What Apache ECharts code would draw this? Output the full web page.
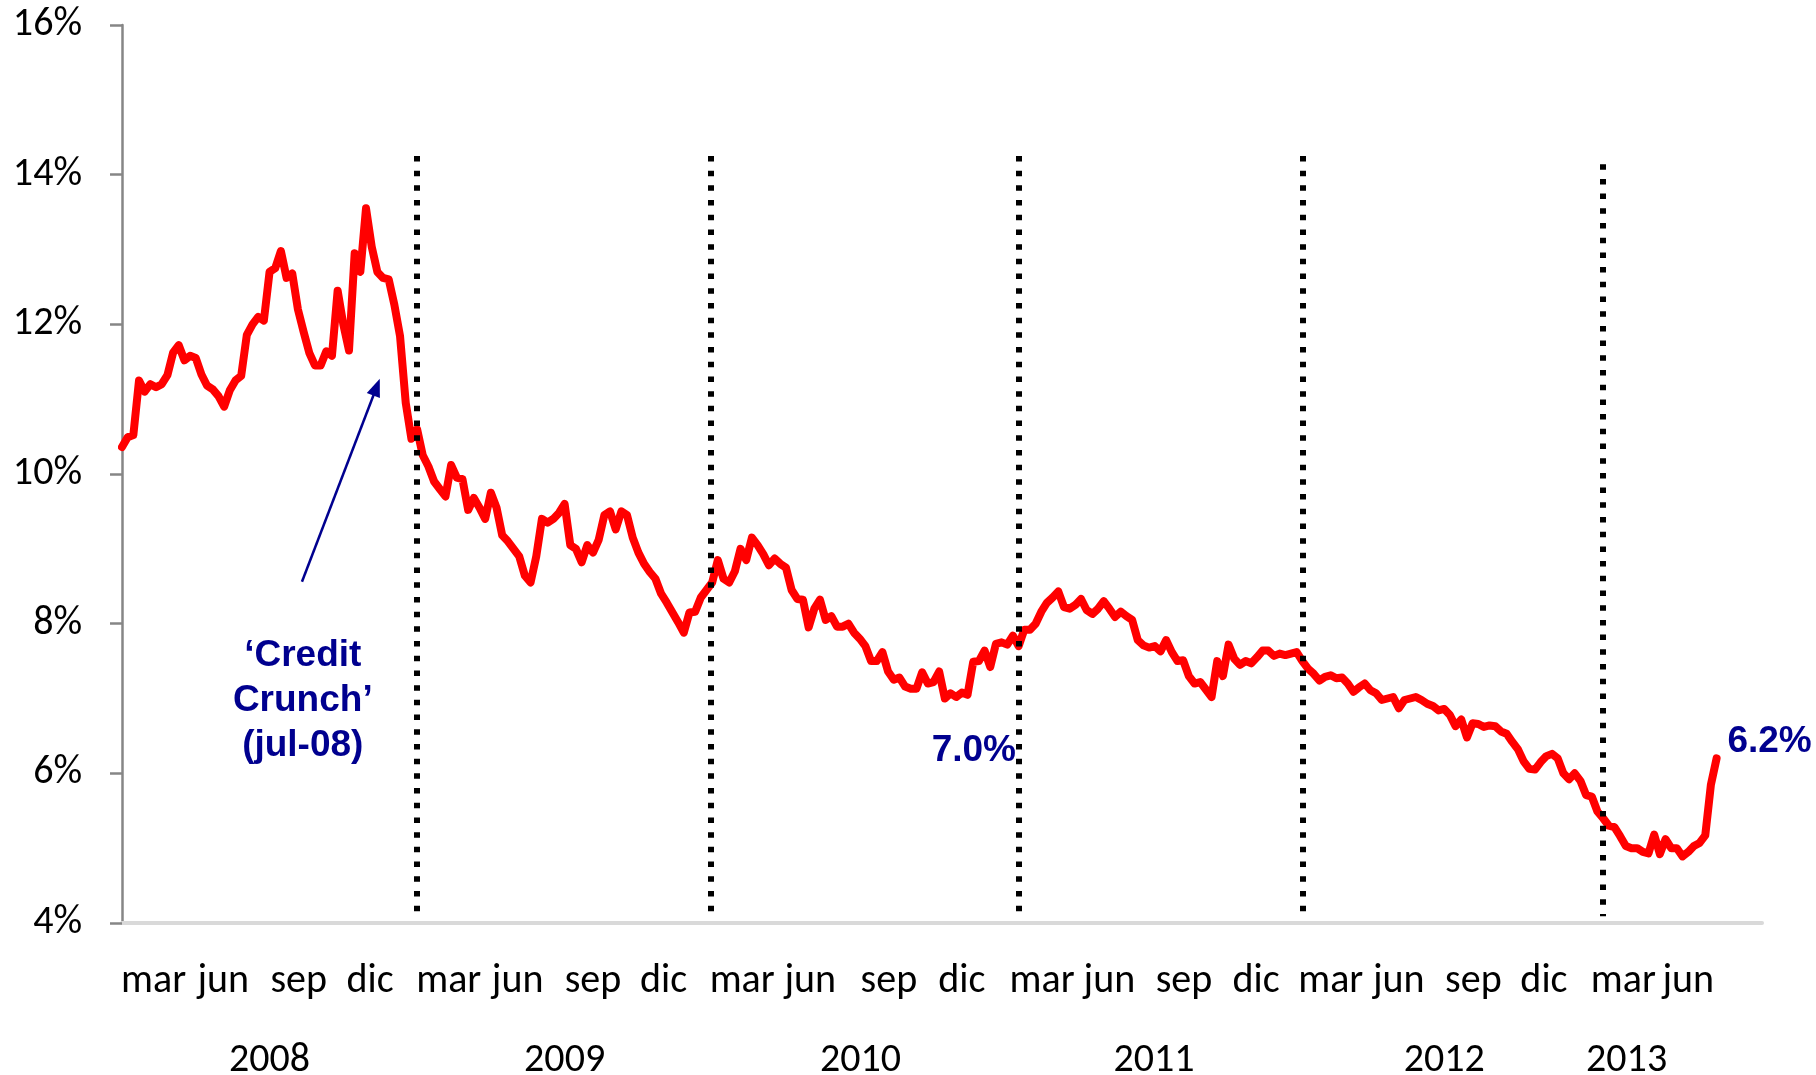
<!DOCTYPE html>
<html>
<head>
<meta charset="utf-8">
<title>Rendimiento 2008-2013</title>
<script src="https://cdn.jsdelivr.net/npm/echarts@6/dist/echarts.min.js"></script>
<style>
  html, body { margin: 0; padding: 0; background: #ffffff; }
  #chart { width: 1816px; height: 1075px; }
</style>
</head>
<body>
<div id="chart"></div>
<script>
// Weekly yield readings (%), one array per calendar year; the first reading is on 2008-01-01
const y2008 = [10.36, 10.49, 10.52, 11.25, 11.10, 11.20, 11.16, 11.20, 11.32, 11.62,
  11.72, 11.52, 11.58, 11.55, 11.33, 11.18, 11.13, 11.04, 10.90, 11.12,
  11.25, 11.31, 11.86, 12.00, 12.10, 12.05, 12.70, 12.75, 12.98, 12.62,
  12.68, 12.20, 11.90, 11.62, 11.45, 11.45, 11.64, 11.58, 12.45, 12.00,
  11.65, 12.95, 12.70, 13.55, 13.04, 12.70, 12.62, 12.60, 12.26, 11.84,
  10.95, 10.47, 10.60];
const y2009 = [10.25, 10.10, 9.90, 9.80, 9.70, 10.12, 9.95, 9.93, 9.52, 9.68,
  9.55, 9.40, 9.75, 9.55, 9.18, 9.10, 9.00, 8.90, 8.64, 8.55,
  8.90, 9.40, 9.35, 9.40, 9.48, 9.60, 9.05, 9.00, 8.82, 9.05,
  8.95, 9.12, 9.45, 9.50, 9.26, 9.50, 9.45, 9.15, 8.95, 8.80,
  8.69, 8.60, 8.40, 8.28, 8.15, 8.02, 7.88, 8.15, 8.16, 8.35,
  8.45, 8.55];
const y2010 = [8.85, 8.60, 8.55, 8.70, 9.00, 8.85, 9.15, 9.05, 8.93, 8.78,
  8.87, 8.80, 8.75, 8.45, 8.33, 8.32, 7.95, 8.20, 8.32, 8.05,
  8.10, 7.96, 7.96, 8.00, 7.88, 7.80, 7.70, 7.50, 7.50, 7.62,
  7.36, 7.25, 7.28, 7.16, 7.13, 7.13, 7.35, 7.20, 7.22, 7.36,
  7.00, 7.07, 7.02, 7.08, 7.05, 7.49, 7.50, 7.64, 7.42, 7.73,
  7.75, 7.72];
const y2011 = [7.84, 7.70, 7.92, 7.92, 8.00, 8.16, 8.28, 8.35, 8.43, 8.22,
  8.20, 8.25, 8.33, 8.18, 8.13, 8.20, 8.30, 8.20, 8.09, 8.16,
  8.10, 8.05, 7.78, 7.71, 7.68, 7.70, 7.63, 7.78, 7.62, 7.50,
  7.51, 7.30, 7.20, 7.22, 7.12, 7.02, 7.50, 7.30, 7.72, 7.53,
  7.45, 7.50, 7.47, 7.55, 7.64, 7.64, 7.57, 7.60, 7.58, 7.60,
  7.62, 7.50];
const y2012 = [7.40, 7.33, 7.24, 7.29, 7.31, 7.27, 7.28, 7.20, 7.09, 7.15,
  7.20, 7.11, 7.07, 6.98, 7.00, 7.02, 6.87, 6.98, 7.00, 7.02,
  6.98, 6.93, 6.90, 6.84, 6.86, 6.78, 6.63, 6.72, 6.48, 6.67,
  6.66, 6.62, 6.64, 6.63, 6.56, 6.53, 6.42, 6.32, 6.16, 6.06,
  6.05, 6.15, 6.23, 6.26, 6.20, 6.00, 5.92, 6.00, 5.90, 5.71,
  5.69, 5.49];
const y2013 = [5.40, 5.30, 5.28, 5.16, 5.03, 5.00, 5.00, 4.95, 4.93, 5.18,
  4.92, 5.12, 5.00, 5.00, 4.89, 4.95, 5.03, 5.07, 5.17, 5.85,
  6.20];

// Y axis scale (percent)
const yMin = 4, yMax = 16, yStep = 2;

// Start of each year on the plotted time scale (dotted separators)
const yearBreaks = ['2008-12-30', '2009-12-27', '2011-01-11', '2011-12-28', '2013-01-01'];
const breakTops = [14.25, 14.25, 14.25, 14.25, 14.14];
const breakBottom = 4.09;

// Quarter labels under the axis
const monthLabels = [
  ['2008-02-09', 'mar'], ['2008-05-05', 'jun'], ['2008-08-06', 'sep'], ['2008-11-02', 'dic'],
  ['2009-02-07', 'mar'], ['2009-05-03', 'jun'], ['2009-08-04', 'sep'], ['2009-10-30', 'dic'],
  ['2010-02-04', 'mar'], ['2010-04-29', 'jun'], ['2010-08-04', 'sep'], ['2010-11-02', 'dic'],
  ['2011-02-09', 'mar'], ['2011-05-03', 'jun'], ['2011-08-03', 'sep'], ['2011-10-31', 'dic'],
  ['2012-01-31', 'mar'], ['2012-04-24', 'jun'], ['2012-07-25', 'sep'], ['2012-10-20', 'dic'],
  ['2013-01-26', 'mar'], ['2013-04-16', 'jun']
];
// Year labels, second row under the axis
const yearLabels = [
  ['2008-07-01', '2008'], ['2009-06-30', '2009'], ['2010-06-30', '2010'],
  ['2011-06-27', '2011'], ['2012-06-19', '2012'], ['2013-01-30', '2013']
];

// Annotation anchors
const crunchNote = { date: '2008-08-11', value: 6.97, text: '\u2018Credit\nCrunch\u2019\n(jul-08)' };
const crunchArrow = { from: ['2008-08-10', 8.56], to: ['2008-11-10', 11.16] };
const axisStart = '2008-01-01', axisEnd = '2013-07-16';

function ts(s) {
  const p = s.split('-').map(Number);
  return new Date(p[0], p[1] - 1, p[2]).getTime();
}

const values = [].concat(y2008, y2009, y2010, y2011, y2012, y2013);
const d0 = ts(axisStart);
const points = values.map(function (v, i) {
  const d = new Date(d0);
  d.setDate(d.getDate() + 7 * i);
  return [d.getTime(), v];
});

// 2010 low and the last reading carry value labels
const off2010 = y2008.length + y2009.length;
const low2010 = Math.min.apply(null, y2010);
const lowPoint = points[off2010 + y2010.indexOf(low2010)];
const lastPoint = points[points.length - 1];

const labelMap = {};
monthLabels.forEach(function (m) { labelMap[ts(m[0])] = m[1]; });
yearLabels.forEach(function (y) { labelMap[ts(y[0])] = '\n' + y[1]; });
const labelTicks = monthLabels.map(function (m) { return ts(m[0]); })
  .concat(yearLabels.map(function (y) { return ts(y[0]); }));

const axisFont = 'Carlito, Calibri, Lato, sans-serif';
const noteFont = '"Liberation Sans", Arial, sans-serif';
const navy = '#00008f';

const chart = echarts.init(document.getElementById('chart'), null, { renderer: 'canvas' });
chart.setOption({
  animation: false,
  backgroundColor: '#ffffff',
  grid: { left: 122, right: 54, top: 25, bottom: 152, containLabel: false, outerBoundsMode: 'none' },
  xAxis: {
    type: 'value',
    min: ts(axisStart),
    max: ts(axisEnd),
    scale: true,
    axisLine: { show: true, onZero: false, lineStyle: { color: '#d9d9d9', width: 4 } },
    axisTick: { show: false },
    splitLine: { show: false },
    axisLabel: {
      customValues: labelTicks,
      formatter: function (v) { return labelMap[v] || ''; },
      fontFamily: axisFont,
      fontSize: 40,
      lineHeight: 79,
      color: '#000000',
      margin: 19,
      verticalAlign: 'top',
      align: 'center'
    }
  },
  yAxis: {
    type: 'value',
    min: yMin,
    max: yMax,
    interval: yStep,
    axisLine: { show: true, lineStyle: { color: '#868686', width: 2.5 } },
    axisTick: { show: true, length: 12, lineStyle: { color: '#868686', width: 2.5 } },
    splitLine: { show: false },
    axisLabel: {
      formatter: '{value}%',
      fontFamily: axisFont,
      fontSize: 40,
      color: '#000000',
      margin: 40
    }
  },
  series: [
    {
      name: 'Rendimiento',
      type: 'line',
      data: points,
      symbol: 'none',
      showSymbol: false,
      z: 2,
      lineStyle: { color: '#ff0000', width: 8, join: 'round', cap: 'round' },
      markLine: {
        silent: true,
        symbol: 'none',
        label: { show: false },
        lineStyle: { color: '#000000', width: 6, type: [5.5, 9.2], cap: 'butt' },
        data: yearBreaks.map(function (d, k) {
          return [{ coord: [ts(d), breakTops[k]] }, { coord: [ts(d), breakBottom] }];
        })
      },
      markPoint: {
        silent: true,
        symbol: 'circle',
        symbolSize: 1,
        itemStyle: { color: 'rgba(0,0,0,0)' },
        label: {
          show: true,
          position: 'inside',
          fontFamily: noteFont,
          fontWeight: 'bold',
          fontSize: 37,
          color: navy,
          formatter: function (p) { return p.value.toFixed(1) + '%'; }
        },
        data: [
          { coord: lowPoint, value: lowPoint[1], label: { offset: [29, 52] } },
          { coord: lastPoint, value: lastPoint[1], label: { offset: [53, -17] } }
        ]
      }
    },
    {
      name: 'Notas',
      type: 'line',
      data: [],
      z: 3,
      markLine: {
        silent: true,
        symbol: ['none', 'triangle'],
        symbolSize: [14, 18],
        label: { show: false },
        lineStyle: { color: navy, width: 2.5, type: 'solid' },
        data: [[
          { coord: [ts(crunchArrow.from[0]), crunchArrow.from[1]] },
          { coord: [ts(crunchArrow.to[0]), crunchArrow.to[1]] }
        ]]
      },
      markPoint: {
        silent: true,
        symbol: 'circle',
        symbolSize: 1,
        itemStyle: { color: 'rgba(0,0,0,0)' },
        label: {
          show: true,
          position: 'inside',
          fontFamily: noteFont,
          fontWeight: 'bold',
          fontSize: 37,
          lineHeight: 44.6,
          align: 'center',
          color: navy,
          formatter: function () { return crunchNote.text; }
        },
        data: [{ coord: [ts(crunchNote.date), crunchNote.value] }]
      }
    }
  ]
});
</script>
</body>
</html>
